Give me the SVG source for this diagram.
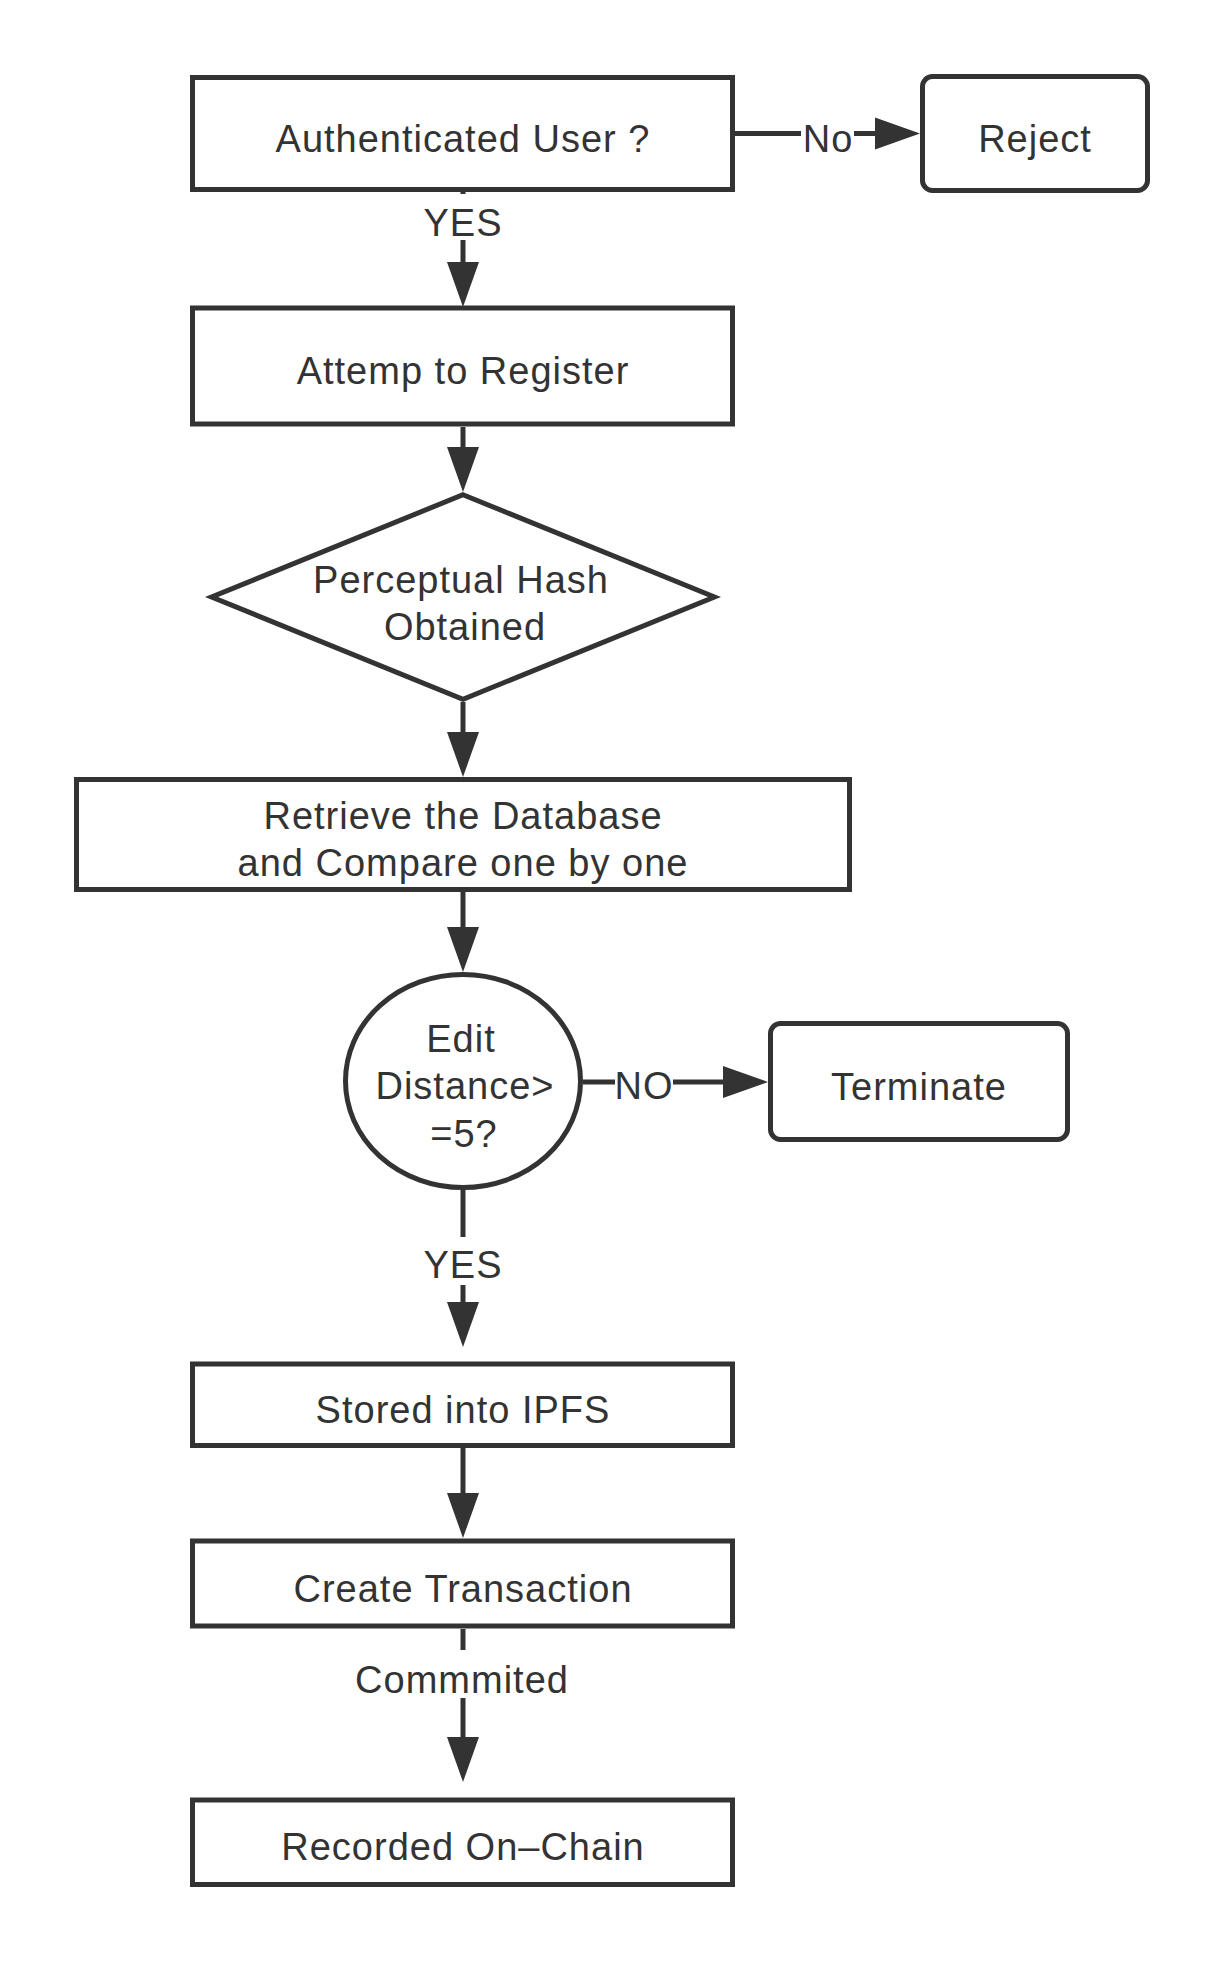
<svg xmlns="http://www.w3.org/2000/svg" width="1224" height="1961" viewBox="0 0 1224 1961">
<style>
.n{fill:#fff;stroke:#333;stroke-width:5}
.t{font-family:"Liberation Sans",Arial,sans-serif;font-size:38px;fill:#333;text-anchor:middle;letter-spacing:1px}
.c{fill:none;stroke:#333;stroke-width:5}
.bg{fill:#fff}
</style>
<defs>
<marker id="ah" markerUnits="userSpaceOnUse" markerWidth="46" markerHeight="34" refX="0" refY="16" orient="auto" viewBox="0 0 46 32"><path d="M0,0 L45,16 L0,32 z" fill="#333"/></marker>
</defs>
<rect width="1224" height="1961" fill="#fff"/>
<g id="connectors">
<path class="c" d="M463,192 V262" marker-end="url(#ah)"/>
<path class="c" d="M735,133.5 H875" marker-end="url(#ah)"/>
<path class="c" d="M463,427 V447" marker-end="url(#ah)"/>
<path class="c" d="M463,702 V732" marker-end="url(#ah)"/>
<path class="c" d="M463,892 V927" marker-end="url(#ah)"/>
<path class="c" d="M583,1082 H723" marker-end="url(#ah)"/>
<path class="c" d="M463,1190 V1302" marker-end="url(#ah)"/>
<path class="c" d="M463,1448 V1493" marker-end="url(#ah)"/>
<path class="c" d="M463,1629 V1737" marker-end="url(#ah)"/>
<rect class="bg" x="425" y="194" width="76" height="46"/>
<text class="t" x="463" y="236">YES</text>
<rect class="bg" x="801" y="109" width="53" height="48"/>
<text class="t" x="828" y="152">No</text>
<rect class="bg" x="615" y="1056" width="58" height="48"/>
<text class="t" x="644" y="1099">NO</text>
<rect class="bg" x="425" y="1237" width="76" height="48"/>
<text class="t" x="463" y="1278">YES</text>
<rect class="bg" x="352" y="1650" width="220" height="48"/>
<text class="t" x="462" y="1693">Commmited</text>
</g>
<g id="n-auth">
<rect class="n" x="192.5" y="77.5" width="540" height="112"/>
<text class="t" x="463" y="151.5">Authenticated User ?</text>
</g>
<g id="n-reject">
<rect class="n" x="922.5" y="76.5" width="225" height="114" rx="10"/>
<text class="t" x="1035" y="151.5">Reject</text>
</g>
<g id="n-register">
<rect class="n" x="192.5" y="308" width="540" height="116"/>
<text class="t" x="463" y="384">Attemp to Register</text>
</g>
<g id="n-hash">
<polygon class="n" points="463,494.7 714.4,597 463,699.3 211.6,597"/>
<text class="t" x="461" y="592.5">Perceptual Hash</text>
<text class="t" x="465" y="639.5">Obtained</text>
</g>
<g id="n-retrieve">
<rect class="n" x="76.5" y="779.5" width="773" height="110"/>
<text class="t" x="463" y="829">Retrieve the Database</text>
<text class="t" x="463" y="876">and Compare one by one</text>
</g>
<g id="n-distance">
<ellipse class="n" cx="463" cy="1081" rx="117.5" ry="106.5"/>
<text class="t" x="461" y="1051.5">Edit</text>
<text class="t" x="465" y="1099">Distance&gt;</text>
<text class="t" x="464" y="1146.5">=5?</text>
</g>
<g id="n-terminate">
<rect class="n" x="770.5" y="1023.5" width="297" height="116" rx="10"/>
<text class="t" x="919" y="1099.5">Terminate</text>
</g>
<g id="n-ipfs">
<rect class="n" x="192.5" y="1364" width="540" height="81.5"/>
<text class="t" x="463" y="1423">Stored into IPFS</text>
</g>
<g id="n-tx">
<rect class="n" x="192.5" y="1541" width="540" height="85"/>
<text class="t" x="463" y="1602">Create Transaction</text>
</g>
<g id="n-chain">
<rect class="n" x="192.5" y="1800" width="540" height="84.5"/>
<text class="t" x="463" y="1860">Recorded On–Chain</text>
</g>
</svg>
